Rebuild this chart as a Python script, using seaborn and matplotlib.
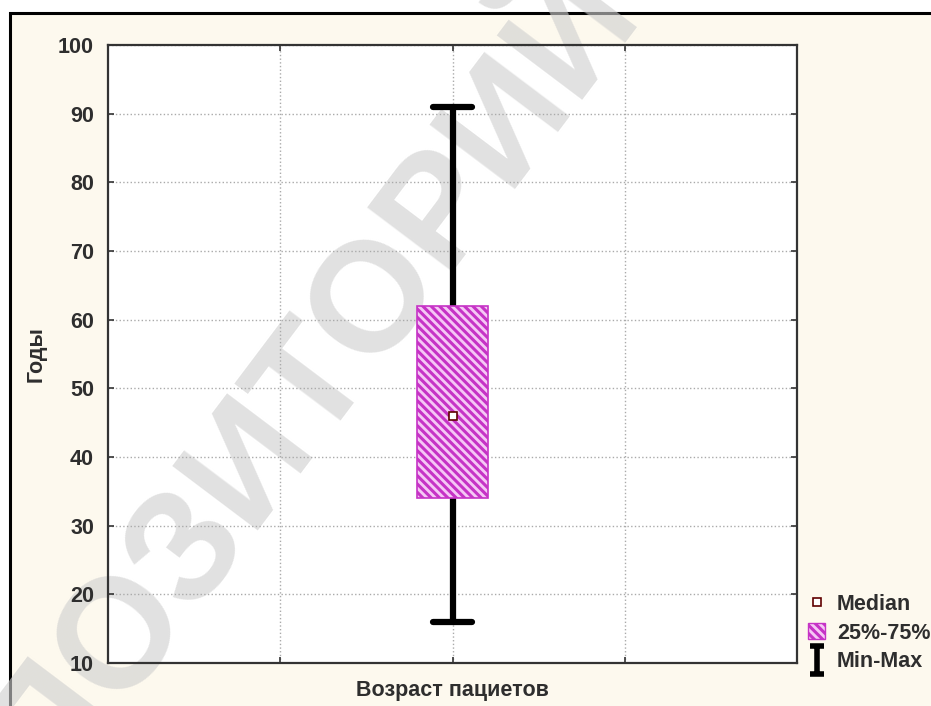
import matplotlib
matplotlib.use("Agg")
import matplotlib.pyplot as plt
import numpy as np
import seaborn as sns
from matplotlib.lines import Line2D
from matplotlib.patches import Patch, Rectangle
from matplotlib.path import Path

# Пять значений выборки: min, Q1, медиана, Q3, max
VOZRAST = [16, 34, 46, 62, 91]
Y_TICKS = [10, 20, 30, 40, 50, 60, 70, 80, 90, 100]
X_LABEL = "Возраст пациетов"
Y_LABEL = "Годы"
LEGEND_LABELS = ["Median", "25%-75%", "Min-Max"]
WATERMARK = "РЕПОЗИТОРИЙ"

CREAM = "#fdf9ee"
MAGENTA = "#c633c6"
PINK = "#f5c8f5"
TEXT = "#2e2e2e"
HATCH = "\\" * 4
FS = 15.5

sns.set_style("white")
plt.rcParams["font.family"] = ["Liberation Sans", "DejaVu Sans"]
plt.rcParams["hatch.linewidth"] = 2.2

fig = plt.figure(figsize=(9.31, 7.06), dpi=100, facecolor="white")

# рамка и кремовый фон
fig.add_artist(Rectangle((10 / 931, -0.1), 1.2, 1 - 13 / 706 + 0.1,
                         transform=fig.transFigure, facecolor=CREAM,
                         edgecolor="black", linewidth=2.2, zorder=0))
ax_pos = [108 / 931, 1 - 663 / 706, 689 / 931, 618 / 706]
fig.add_artist(Rectangle(ax_pos[:2], ax_pos[2], ax_pos[3],
                         transform=fig.transFigure, facecolor="white",
                         edgecolor="none", zorder=0.2))

# водяной знак (под осями)
fig.text(250 / 931, 1 - 460 / 706, WATERMARK, rotation=53, fontsize=112,
         fontweight="bold", color="#cfcfcf", alpha=0.62, ha="center",
         va="center", rotation_mode="anchor", zorder=0.5)

ax = fig.add_axes(ax_pos, zorder=1)
ax.patch.set_visible(False)

sns.boxplot(
    y=VOZRAST,
    whis=(0, 100),
    width=0.41,
    color=PINK,
    linecolor="black",
    linewidth=4.5,
    medianprops={"visible": False},
    capwidths=0.23,
    ax=ax,
)
for patch in ax.patches:
    patch.set_facecolor(PINK)
    patch.set_edgecolor(MAGENTA)
    patch.set_linewidth(1.2)
    patch.set_hatch(HATCH)
    patch.set_zorder(3)

ax.plot([0], [np.median(VOZRAST)], marker="s", markersize=6,
        markerfacecolor="white", markeredgecolor="#600000",
        markeredgewidth=1.2, linestyle="none", zorder=5)

ax.set_xlim(-2, 2)
ax.set_ylim(10, 100)
ax.set_xticks([-1, 0, 1])
ax.set_xticklabels([])
ax.set_yticks(Y_TICKS)
ax.set_yticklabels([str(t) for t in Y_TICKS], fontweight="bold",
                   fontsize=FS, color=TEXT)
ax.tick_params(axis="both", direction="in", length=4, width=1.2,
               top=True, right=True, left=True, bottom=True, pad=10,
               colors="#333333", labelcolor=TEXT)
ax.grid(True, linestyle=":", color="#aaaaaa", linewidth=1)
for side in ax.spines.values():
    side.set_color("#333333")
    side.set_linewidth(1.6)

ax.set_xlabel(X_LABEL, fontweight="bold", fontsize=FS, color=TEXT,
              labelpad=2)
ax.set_ylabel(Y_LABEL, fontweight="bold", fontsize=FS, color=TEXT,
              labelpad=8)

# I-образный значок для Min-Max
ibeam = Path([(-0.5, 1), (0.5, 1), (0, 1), (0, -1), (-0.5, -1), (0.5, -1)],
             [Path.MOVETO, Path.LINETO, Path.MOVETO, Path.LINETO,
              Path.MOVETO, Path.LINETO])

handles = [
    Line2D([], [], marker="s", markersize=6, markerfacecolor="white",
           markeredgecolor="#600000", markeredgewidth=1.2,
           linestyle="none"),
    Patch(facecolor=PINK, edgecolor=MAGENTA, hatch=HATCH),
    Line2D([], [], marker=ibeam, markersize=20, markeredgewidth=4,
           color="black", markerfacecolor="none", linestyle="none"),
]
fig.legend(handles, LEGEND_LABELS, loc="upper left",
           bbox_to_anchor=(808 / 931, 1 - 594 / 706), frameon=False,
           prop={"weight": "bold", "size": FS}, labelcolor=TEXT,
           handlelength=0.8, handletextpad=0.55, labelspacing=0.35,
           borderaxespad=0, borderpad=0)

fig.savefig("out.png", dpi=100, facecolor="white")
